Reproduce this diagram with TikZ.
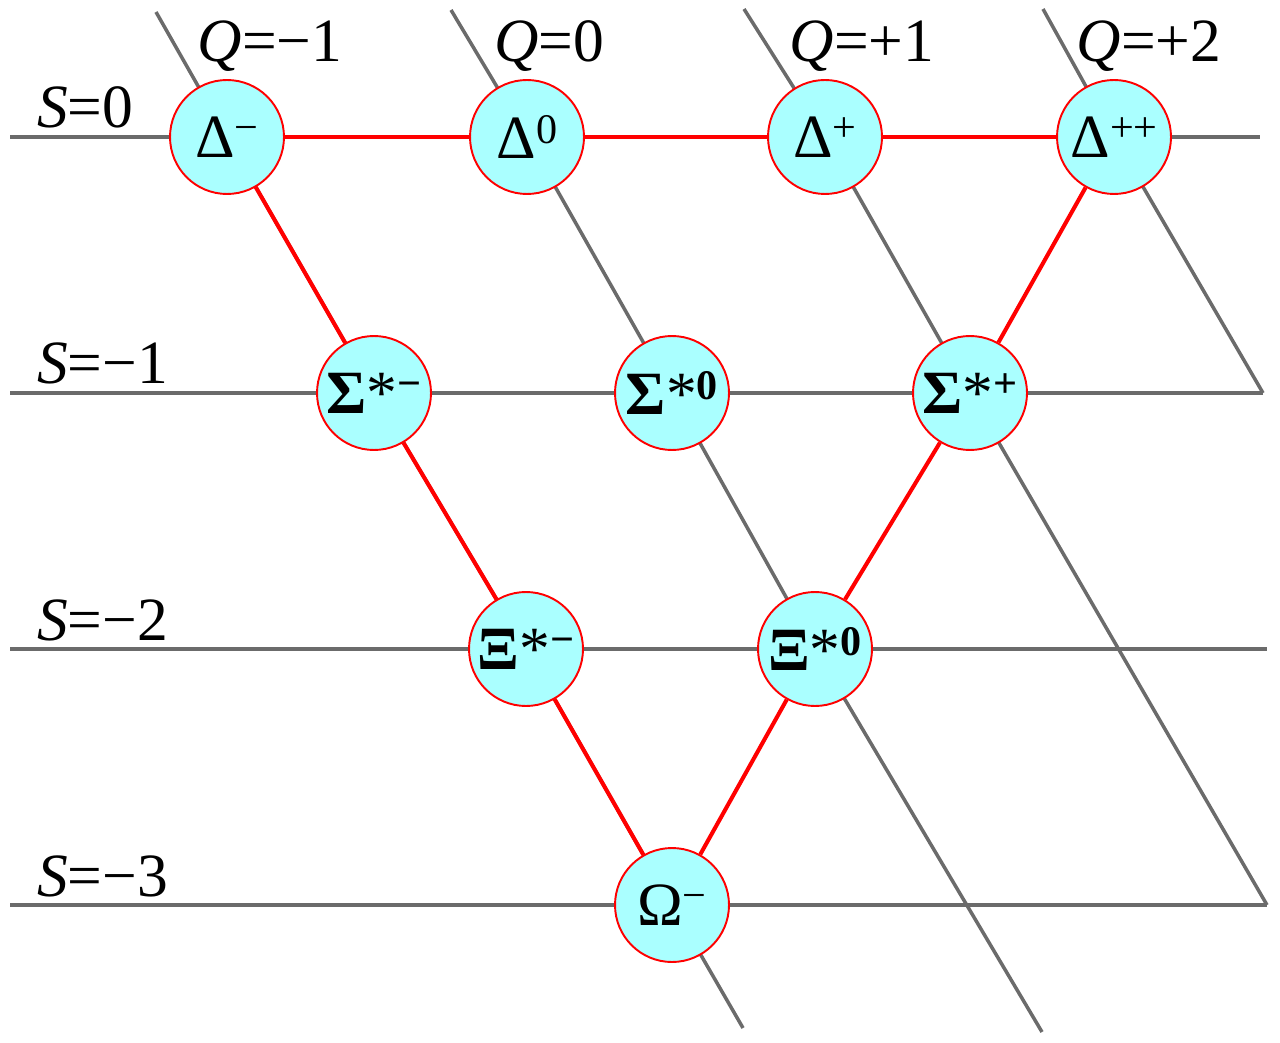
\documentclass[tikz,border=0pt]{standalone}
\usepackage{fontspec}
\setmainfont{Liberation Serif}
\usetikzlibrary{backgrounds}
\definecolor{ballcyan}{HTML}{AAFFFF}
\definecolor{gridgray}{HTML}{6B6B6B}
\newcommand\up[1]{\raisebox{9pt}{\fontsize{24}{26}\selectfont #1}}
\newcommand\st{{\mdseries *}}
\tikzset{ball/.style={circle, draw=red, line width=1.1pt, fill=ballcyan,
   minimum size=2.28cm, inner sep=0pt},
 grid/.style={draw=gridgray, line width=2pt, line join=miter},
 redline/.style={draw=red, line width=2.3pt},
 qlabel/.style={anchor=base},
 slabel/.style={anchor=base west},
 }

\begin{document}
\begin{tikzpicture}[x=0.02cm, y=-0.02cm, font=\fontsize{35}{42}\selectfont]
        \useasboundingbox (0,0) rectangle (1280,1043);

        % decuplet
        \node[ball] (dm)  at (227,137)  {Δ\up{−}};
        \node[ball] (d0)  at (527,137)  {Δ\up{0}};
        \node[ball] (dp)  at (825,137)  {Δ\up{+}};
        \node[ball] (dpp) at (1114,137) {Δ\up{++}};
        \node[ball] (sm)  at (374,393)  {\bfseries Σ\st\up{−}};
        \node[ball] (s0)  at (672,393)  {\bfseries Σ\st\up{0}};
        \node[ball] (sp)  at (970,393)  {\bfseries Σ\st\up{+}};
        \node[ball] (xm)  at (526,649)  {\bfseries Ξ\st\up{−}};
        \node[ball] (x0)  at (815,649)  {\bfseries Ξ\st\up{0}};
        \node[ball] (om)  at (672,905)  {Ω\up{−}};

        % labels
        \foreach \x/\q[count=\i] in {270/−1, 549/0, 862/+1, 1149/+2} {
            \node[qlabel] (q\i) at (\x, 62) {\textit{Q}=\q};
        }
        \foreach \y/\s[count=\i] in {128/0, 384/−1, 640/−2, 896/−3} {
            \node[slabel] (s\i) at (31, \y) {\textit{S}=\s};
        }

        % free ends of the grid
        \foreach \y[count=\i] in {137, 393, 649, 905} {
            \coordinate (left\i) at (10, \y);
        }
        \coordinate (right1) at (1260,137);
        \coordinate (right2) at (1263,393);
        \coordinate (right3) at (1267,649);
        \coordinate (right4) at (1267,905);
        \coordinate (top1) at (156,12);
        \coordinate (top2) at (451,10);
        \coordinate (top3) at (744,9);
        \coordinate (top4) at (1043,9);
        \coordinate (bot1) at (743,1028);
        \coordinate (bot2) at (1042,1032);

        \begin{scope}[on background layer]
            \draw[grid] (left1) -- (dm.center) -- (d0.center) -- (dp.center) -- (dpp.center) -- (right1);
            \draw[grid] (left2) -- (sm.center) -- (s0.center) -- (sp.center) -- (right2);
            \draw[grid] (left3) -- (xm.center) -- (x0.center) -- (right3);
            \draw[grid] (left4) -- (om.center) -- (right4);
            \draw[grid] (top1) -- (dm.center) -- (sm.center) -- (xm.center) -- (om.center) -- (bot1);
            \draw[grid] (top2) -- (d0.center) -- (s0.center) -- (x0.center) -- (bot2);
            \draw[grid] (top3) -- (dp.center) -- (sp.center) -- (right4);
            \draw[grid] (top4) -- (dpp.center) -- (right2);
        \end{scope}

        \draw[redline] (dm) -- (d0);
        \draw[redline] (d0) -- (dp);
        \draw[redline] (dp) -- (dpp);
        \draw[redline] (dm) -- (sm);
        \draw[redline] (sm) -- (xm);
        \draw[redline] (xm) -- (om);
        \draw[redline] (om) -- (x0);
        \draw[redline] (x0) -- (sp);
        \draw[redline] (sp) -- (dpp);
    \end{tikzpicture}
\end{document}
